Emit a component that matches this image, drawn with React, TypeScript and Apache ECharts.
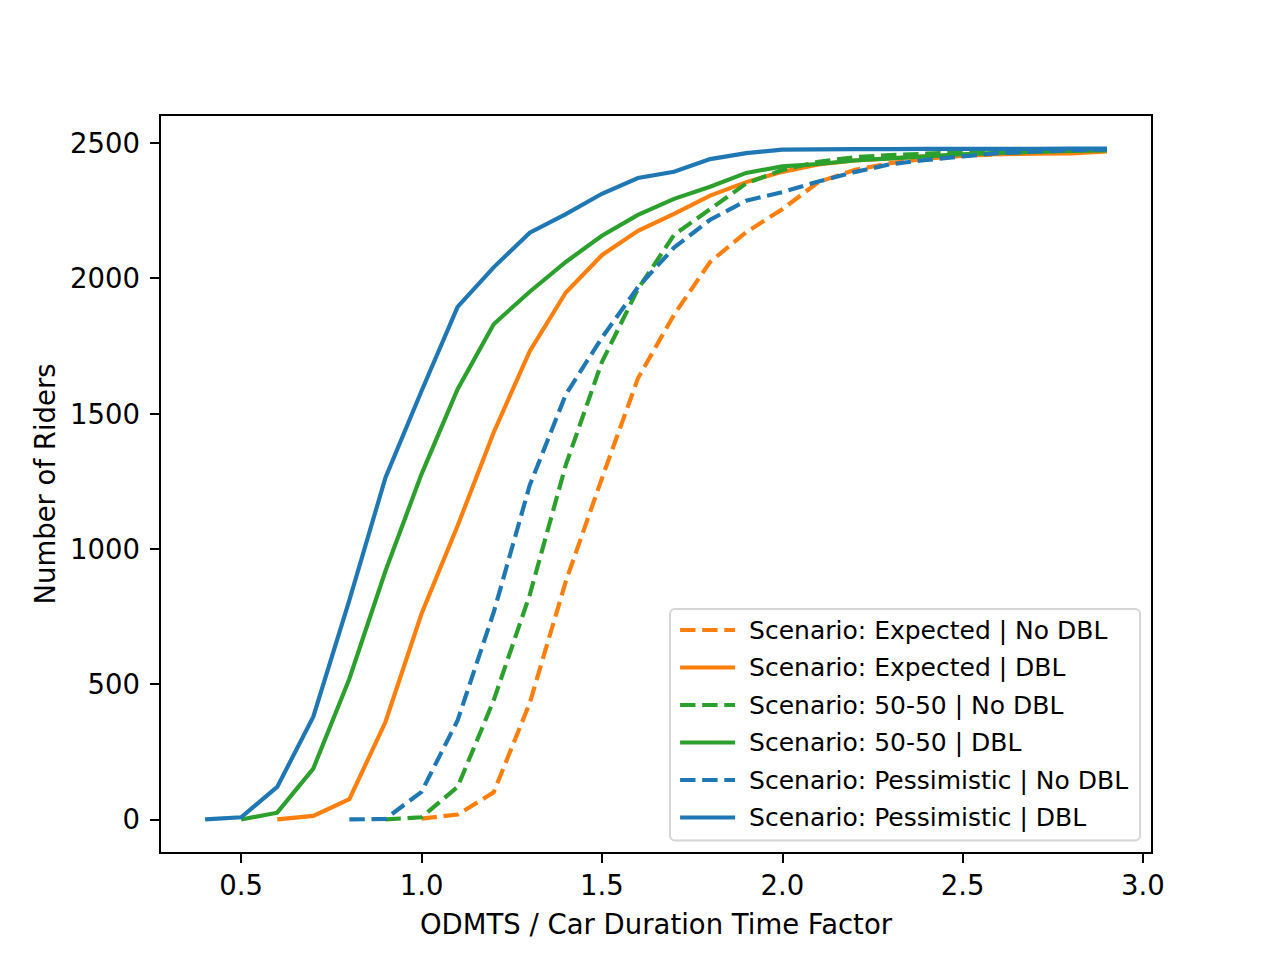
import React, { useEffect, useRef } from "react";
import * as echarts from "echarts";

const xStep = 0.1;

const expectedNoDbl = [3, 18, 100, 430, 880, 1260, 1630, 1865, 2060, 2170, 2255, 2355, 2400, 2425, 2442, 2452, 2458, 2462, 2466, 2470];
const expectedNoDblStart = 1.0;
const expectedDbl = [0, 13, 75, 360, 760, 1085, 1430, 1730, 1947, 2085, 2175, 2238, 2305, 2355, 2393, 2420, 2435, 2443, 2450, 2455, 2458, 2460, 2461, 2468];
const expectedDblStart = 0.6;
const fiftyNoDbl = [0, 8, 120, 440, 830, 1310, 1690, 1960, 2160, 2255, 2350, 2400, 2430, 2447, 2455, 2460, 2465, 2468, 2471, 2473, 2475];
const fiftyNoDblStart = 0.9;
const fiftyDbl = [0, 25, 188, 520, 918, 1276, 1590, 1830, 1950, 2060, 2157, 2234, 2293, 2338, 2389, 2413, 2422, 2435, 2443, 2450, 2458, 2463, 2467, 2470, 2472];
const fiftyDblStart = 0.5;
const pessNoDbl = [0, 2, 102, 366, 765, 1235, 1570, 1780, 1967, 2113, 2216, 2286, 2318, 2357, 2392, 2421, 2437, 2450, 2462, 2468, 2473, 2476];
const pessNoDblStart = 0.8;
const pessDbl = [0, 8, 120, 380, 810, 1263, 1583, 1894, 2040, 2168, 2237, 2312, 2370, 2393, 2440, 2462, 2475, 2476, 2477, 2477, 2478, 2478, 2478, 2478, 2479, 2479];
const pessDblStart = 0.4;

const xTicks = [0.5, 1.0, 1.5, 2.0, 2.5, 3.0];
const yTicks = [0, 500, 1000, 1500, 2000, 2500];

const seriesNames = [
  "Scenario: Expected | No DBL",
  "Scenario: Expected | DBL",
  "Scenario: 50-50 | No DBL",
  "Scenario: 50-50 | DBL",
  "Scenario: Pessimistic | No DBL",
  "Scenario: Pessimistic | DBL",
];

const BLUE = "#1f77b4";
const ORANGE = "#ff7f0e";
const GREEN = "#2ca02c";
const FONT = "DejaVu Sans";
const FS = 27.5;
const LEGEND_FS = 25;

function toPairs(values: number[], start: number) {
  return values.map((v, i) => [Math.round((start + i * xStep) * 10) / 10, v]);
}

export default function App() {
  const ref = useRef<HTMLDivElement>(null);
  useEffect(() => {
    if (!ref.current) return;
    const chart = echarts.init(ref.current, null, { renderer: "svg" });
    const dash = [15.4, 6.7];
    const mk = (name: string, data: number[], start: number, color: string, dashed: boolean) => ({
      name,
      type: "line",
      data: toPairs(data, start),
      symbol: "none",
      showSymbol: false,
      lineStyle: { color, width: 4.17, type: dashed ? dash : "solid", cap: "butt", join: "miter" },
      itemStyle: { color },
      emphasis: { disabled: true },
    });
    chart.setOption({
      animation: false,
      backgroundColor: "#ffffff",
      textStyle: { fontFamily: FONT, color: "#000" },
      grid: {
        left: 160,
        right: 128,
        top: 115,
        bottom: 107,
        show: true,
        borderColor: "#000",
        borderWidth: 2,
        backgroundColor: "transparent",
      },
      xAxis: {
        type: "value",
        min: 0.275,
        max: 3.025,
        name: "ODMTS / Car Duration Time Factor",
        nameLocation: "middle",
        nameGap: 57,
        nameTextStyle: { fontSize: FS, fontFamily: FONT, color: "#000" },
        axisLine: { show: false, onZero: false },
        axisTick: {
          show: true,
          inside: false,
          length: 10,
          lineStyle: { color: "#000", width: 2 },
          customValues: xTicks,
        },
        axisLabel: {
          fontSize: FS,
          fontFamily: FONT,
          color: "#000",
          margin: 18,
          customValues: xTicks,
          formatter: (v: number) => v.toFixed(1),
        },
        splitLine: { show: false },
      },
      yAxis: {
        type: "value",
        min: -124,
        max: 2603,
        name: "Number of Riders",
        nameLocation: "middle",
        nameGap: 101,
        nameRotate: 90,
        nameTextStyle: { fontSize: FS, fontFamily: FONT, color: "#000" },
        axisLine: { show: false, onZero: false },
        axisTick: {
          show: true,
          inside: false,
          length: 10,
          lineStyle: { color: "#000", width: 2 },
          customValues: yTicks,
        },
        axisLabel: {
          fontSize: FS,
          fontFamily: FONT,
          color: "#000",
          margin: 20,
          customValues: yTicks,
          formatter: (v: number) => String(Math.round(v)),
        },
        splitLine: { show: false },
      },
      legend: {
        orient: "vertical",
        left: 670,
        top: 609,
        padding: [7, 12, 9, 8],
        itemGap: 9.5,
        itemWidth: 55,
        itemHeight: 14,
        backgroundColor: "rgba(255,255,255,0.8)",
        borderColor: "#d6d6d6",
        borderWidth: 2,
        borderRadius: 5,
        selectedMode: false,
        itemStyle: { opacity: 0 },
        lineStyle: { width: 4.17, cap: "butt" },
        textStyle: { fontSize: LEGEND_FS, fontFamily: FONT, color: "#000", lineHeight: 28, padding: [0, 0, 0, 9] },
        data: seriesNames,
      },
      series: [
        mk(seriesNames[0], expectedNoDbl, expectedNoDblStart, ORANGE, true),
        mk(seriesNames[1], expectedDbl, expectedDblStart, ORANGE, false),
        mk(seriesNames[2], fiftyNoDbl, fiftyNoDblStart, GREEN, true),
        mk(seriesNames[3], fiftyDbl, fiftyDblStart, GREEN, false),
        mk(seriesNames[4], pessNoDbl, pessNoDblStart, BLUE, true),
        mk(seriesNames[5], pessDbl, pessDblStart, BLUE, false),
      ],
    });
    return () => chart.dispose();
  }, []);
  return (
    <div
      ref={ref}
      style={{ position: "absolute", left: 0, top: 0, width: 1280, height: 960, background: "#fff" }}
    />
  );
}
